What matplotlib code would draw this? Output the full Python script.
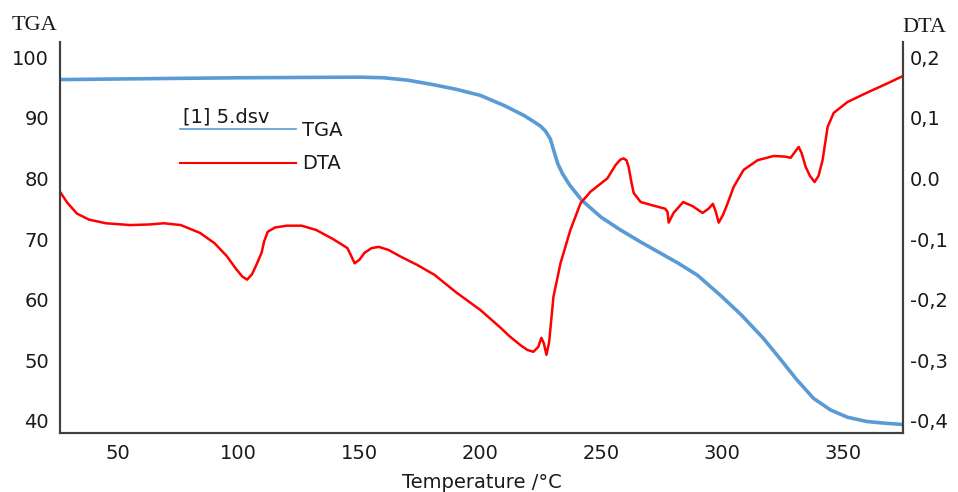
import numpy as np
import matplotlib
matplotlib.use('Agg')
import matplotlib.pyplot as plt
from matplotlib.lines import Line2D

# TGA curve (left axis)
tga_t = [26, 50, 75, 100, 125, 150, 160, 170, 180, 190, 200, 210, 218, 222, 225, 227,
         229, 230.5, 232, 234, 237, 242, 250, 258, 266, 274, 282, 290, 300, 308, 317,
         324, 331, 338, 345, 352, 360, 368, 375]
tga_v = [96.3, 96.4, 96.5, 96.6, 96.65, 96.7, 96.6, 96.2, 95.5, 94.7, 93.7, 92.0, 90.4,
         89.4, 88.6, 87.8, 86.5, 84.5, 82.5, 80.8, 78.9, 76.4, 73.6, 71.5, 69.6, 67.8,
         66.0, 64.0, 60.5, 57.5, 53.7, 50.3, 46.8, 43.7, 41.8, 40.6, 39.9, 39.6, 39.4]

# DTA curve (right axis)
dta_t = [26, 29, 33, 38, 45, 55, 63, 69, 76, 84, 90, 95, 99, 101.5, 103.5, 105.5, 107.6,
         109.5, 110.5, 112, 115, 120, 126, 132, 139, 145, 146.8, 148, 150, 152, 155, 158,
         162, 167, 174, 181, 190, 200, 208, 212, 216.6, 219.5, 222, 224, 225.3, 226.3, 227.4,
         228.5, 230.3, 233.2, 237.3, 241.5, 245.6, 252.6, 256, 258, 259.3, 260.5, 261.4,
         262.5, 263.5, 266.4, 271.8, 276.5, 277.5, 278, 280, 284, 288, 292, 294.5, 296.3,
         297.5, 298.7, 300.5, 302.4, 304.9, 309, 314.8, 321.5, 326, 328.5, 330.5, 331.8,
         333, 334.7, 336.5, 338.4, 340, 341.7, 343.8, 346.3, 352, 360.4, 368.7, 375]
dta_v = [-0.022, -0.040, -0.058, -0.068, -0.074, -0.077, -0.076, -0.074, -0.077, -0.090,
         -0.107, -0.128, -0.150, -0.162, -0.167, -0.158, -0.140, -0.122, -0.104, -0.088,
         -0.081, -0.078, -0.078, -0.085, -0.100, -0.115, -0.130, -0.140, -0.134, -0.123,
         -0.115, -0.113, -0.118, -0.129, -0.143, -0.159, -0.188, -0.217, -0.245, -0.260,
         -0.275, -0.283, -0.286, -0.278, -0.263, -0.272, -0.291, -0.270, -0.195, -0.140,
         -0.085, -0.041, -0.022, 0.0, 0.022, 0.031, 0.033, 0.030, 0.019, -0.005, -0.024,
         -0.039, -0.045, -0.050, -0.055, -0.073, -0.057, -0.039, -0.046, -0.057, -0.050,
         -0.042, -0.055, -0.073, -0.060, -0.041, -0.014, 0.014, 0.030, 0.037, 0.036, 0.034,
         0.045, 0.052, 0.042, 0.019, 0.004, -0.006, 0.004, 0.030, 0.085, 0.108, 0.126,
         0.142, 0.157, 0.169]

x_ticks = [50, 100, 150, 200, 250, 300, 350]
tga_ticks = [40, 50, 60, 70, 80, 90, 100]
dta_ticks = [-0.4, -0.3, -0.2, -0.1, 0.0, 0.1, 0.2]
dta_tick_labels = ['-0,4', '-0,3', '-0,2', '-0,1', '0.0', '0,1', '0,2']

BLUE = '#5B9BD5'
RED = '#FF0000'
SPINE = '#404040'
INK = '#1a1a1a'

fig = plt.figure(figsize=(9.58, 4.92), dpi=100)
ax = fig.add_axes([60/958, 59/492, 843/958, 391/492])
ax2 = ax.twinx()

ax.plot(tga_t, tga_v, color=BLUE, lw=2.6, solid_capstyle='round')
ax2.plot(dta_t, dta_v, color=RED, lw=1.8)

ax.set_xlim(26, 375)
ax.set_ylim(38.0, 102.5)
ax2.set_ylim(-0.42, 0.225)

ax.set_xticks(x_ticks)
ax.set_yticks(tga_ticks)
ax2.set_yticks(dta_ticks)
ax2.set_yticklabels(dta_tick_labels)

for a in (ax, ax2):
    a.spines['top'].set_visible(False)
    for s in ('left', 'right', 'bottom'):
        a.spines[s].set_color(SPINE)
        a.spines[s].set_linewidth(1.5)
    a.tick_params(length=0, labelsize=14, colors=INK)
ax.tick_params(axis='x', pad=8)
ax.tick_params(axis='y', pad=8)
ax2.tick_params(axis='y', pad=5)

ax.set_xlabel('Temperature /°C', fontsize=14, color=INK, labelpad=7)

fig.text(12/958, 1 - 25/492, 'TGA', family='Liberation Serif', fontsize=16,
         va='center', ha='left', color=INK)
fig.text(902/958, 1 - 28/492, 'DTA', family='Liberation Serif', fontsize=16,
         va='center', ha='left', color=INK)

# legend: caption sits right on top of the TGA entry, no frame
fig.text(183/958, 1 - 117/492, '[1] 5.dsv', fontsize=14, va='center', ha='left', color=INK)
handles = [Line2D([], [], color=BLUE, lw=1.2), Line2D([], [], color=RED, lw=1.5)]
ax2.legend(handles, ['TGA', 'DTA'], frameon=False,
           loc='upper left', bbox_to_anchor=(172/958, 1 - 113/492),
           bbox_transform=fig.transFigure, borderaxespad=0,
           handlelength=6.0, handletextpad=0.3, labelspacing=0.75,
           fontsize=14, labelcolor=INK)

fig.savefig('out.png', dpi=100)
